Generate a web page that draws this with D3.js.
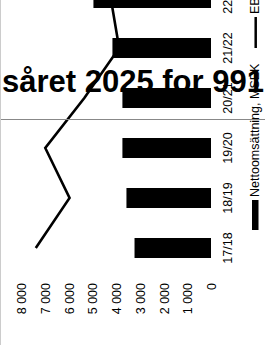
<!DOCTYPE html>
<html><head><meta charset="utf-8">
<script src="https://cdn.jsdelivr.net/npm/d3@7"></script>
<style>html,body{margin:0;padding:0;background:#fff;overflow:hidden}</style>
</head><body>
<svg id="c" width="265" height="345"></svg>
<script>
const categories = ["17/18", "18/19", "19/20", "20/21", "21/22", "22/23"];
const netSales = [3220, 3560, 3730, 3730, 4150, 4950];
const ebitda = [830, 670, 785, 600, 435, 475];
const valueTicks = [0, 1000, 2000, 3000, 4000, 5000, 6000, 7000, 8000];
const legendLabels = ["Nettoomsättning, MSEK", "EBITDA, MSEK"];
const titleText = "såret 2025 for 991";

const W = 265, H = 345;
const FONT = "'Liberation Sans', Arial, sans-serif";
const svg = d3.select("#c").style("font-family", FONT);
svg.append("rect").attr("width", W).attr("height", H).attr("fill", "#fff");

// chart drawn upright, then turned a quarter turn counter-clockwise
const g = svg.append("g").attr("transform", `translate(0,${H}) rotate(-90)`);

const x = d3.scaleBand().domain(categories).range([72, 372]).paddingInner(0.6).paddingOuter(0.3);
const y = d3.scaleLinear().domain([0, 8000]).range([211, 21]);
const y2 = d3.scaleLinear().domain([0, 900]).range([211, 21]);

const loc = d3.formatLocale({decimal: ",", thousands: "\u00a0", grouping: [3], currency: ["", ""]});
const fmt = loc.format(",d");

// value axis
const ya = g.append("g").attr("transform", "translate(62,0)")
  .call(d3.axisLeft(y).tickValues(valueTicks).tickFormat(fmt).tickSize(0).tickPadding(0));
ya.select(".domain").remove();
ya.selectAll("text").attr("font-size", 12.5).attr("font-family", FONT).attr("fill", "#000").attr("dy", "0.36em");

// category axis
const xa = g.append("g").attr("transform", "translate(0,223)")
  .call(d3.axisBottom(x).tickSize(0).tickPadding(0));
xa.select(".domain").remove();
xa.selectAll("text").attr("font-size", 12.5).attr("font-family", FONT).attr("fill", "#000");

// bars
g.append("g").selectAll("rect").data(categories).join("rect")
  .attr("x", d => x(d))
  .attr("width", x.bandwidth())
  .attr("y", (d, i) => y(netSales[i]))
  .attr("height", (d, i) => y(0) - y(netSales[i]))
  .attr("fill", "#000");

// line
const line = d3.line().x((d, i) => x(categories[i]) + x.bandwidth() / 2).y(d => y2(d));
g.append("path").datum(ebitda).attr("d", line)
  .attr("fill", "none").attr("stroke", "#000").attr("stroke-width", 2.6).attr("stroke-linejoin", "miter");

// legend
const lg = g.append("g");
lg.append("rect").attr("x", 115).attr("y", 252).attr("width", 30).attr("height", 6.5).attr("fill", "#000");
lg.append("text").attr("x", 148).attr("y", 259).attr("font-size", 12.5).attr("fill", "#000").text(legendLabels[0]);
lg.append("line").attr("x1", 297).attr("x2", 328).attr("y1", 255.7).attr("y2", 255.7)
  .attr("stroke", "#000").attr("stroke-width", 2.5);
lg.append("text").attr("x", 331).attr("y", 259).attr("font-size", 12.5).attr("fill", "#000").text(legendLabels[1]);

// overlays (not rotated)
svg.append("line").attr("x1", 0).attr("x2", W).attr("y1", 119.5).attr("y2", 119.5)
  .attr("stroke", "#888").attr("stroke-width", 1);
svg.append("line").attr("x1", 0.5).attr("x2", 0.5).attr("y1", 0).attr("y2", H)
  .attr("stroke", "#ccc").attr("stroke-width", 1);
svg.append("text").attr("x", 2).attr("y", 92).attr("font-size", 31).attr("font-weight", "bold")
  .attr("fill", "#000").text(titleText);
</script>
</body></html>
